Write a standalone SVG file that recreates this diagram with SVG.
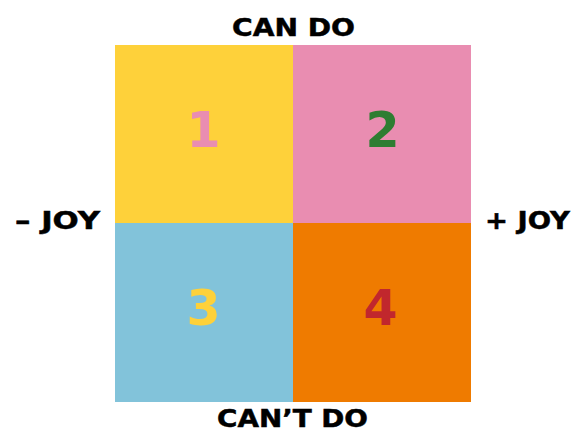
<svg xmlns="http://www.w3.org/2000/svg" width="571" height="432" viewBox="0 0 571 432">
<style>
.lbl{font-family:"DejaVu Sans","Liberation Sans",sans-serif;font-weight:bold;font-size:25px;fill:#000;stroke:#000;stroke-width:0.5;text-anchor:middle}
.num{font-family:"DejaVu Sans","Liberation Sans",sans-serif;font-weight:bold;font-size:49px;text-anchor:middle}
</style>
<rect width="571" height="432" fill="#fff"/>
<g id="q1"><rect x="115" y="45" width="178" height="178" fill="#FED13A"/><text class="num" x="203.5" y="147" fill="#E98DB1">1</text></g>
<g id="q2"><rect x="293" y="45" width="178" height="178" fill="#E98DB1"/><text class="num" x="382.5" y="147" fill="#2E7D32">2</text></g>
<g id="q3"><rect x="115" y="223" width="178" height="179" fill="#82C3DA"/><text class="num" x="203.5" y="325" fill="#FED13A">3</text></g>
<g id="q4"><rect x="293" y="223" width="178" height="179" fill="#EF7B00"/><text class="num" x="380.5" y="325" fill="#C1272D">4</text></g>
<g id="labels">
<text class="lbl" x="293.5" y="36" textLength="123" lengthAdjust="spacingAndGlyphs">CAN DO</text>
<text class="lbl" x="292.5" y="426.5" style="font-size:24px" textLength="151" lengthAdjust="spacingAndGlyphs">CAN’T DO</text>
<text class="lbl" x="57.5" y="229" textLength="85" lengthAdjust="spacingAndGlyphs">– JOY</text>
<text class="lbl" x="527.5" y="229" textLength="85" lengthAdjust="spacingAndGlyphs">+ JOY</text>
</g>
<g id="connectors"/>
</svg>
